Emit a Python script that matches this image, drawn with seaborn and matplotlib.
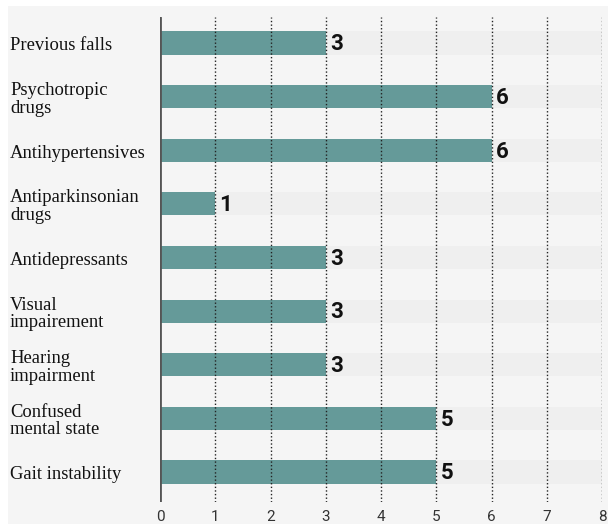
import matplotlib
matplotlib.use("Agg")
import matplotlib.pyplot as plt
import matplotlib.transforms as mtransforms
import seaborn as sns
import pandas as pd
from matplotlib.patches import Rectangle

categories = ["Previous falls", "Psychotropic\ndrugs", "Antihypertensives",
              "Antiparkinsonian\ndrugs", "Antidepressants", "Visual\nimpairement",
              "Hearing\nimpairment", "Confused\nmental state", "Gait instability"]
values = [3, 6, 6, 1, 3, 3, 3, 5, 5]
x_ticks = [0, 1, 2, 3, 4, 5, 6, 7, 8]
x_max = 8

sns.set_theme(style="white")
plt.rcParams['font.family'] = ['Liberation Serif', 'DejaVu Serif']

df = pd.DataFrame({"cat": categories, "val": values, "track": [x_max] * len(values)})

fig = plt.figure(figsize=(6.08, 5.24), dpi=100)
fig.patch.set_facecolor("white")
bg = Rectangle((8 / 608, 0), 1, 1 - 6 / 524, transform=fig.transFigure,
               facecolor="#f5f5f5", edgecolor="none", zorder=-10)
fig.patches.append(bg)
ax = fig.add_axes([160 / 608, 1 - 502 / 524, 442 / 608, 485 / 524])
ax.set_zorder(5)
ax.set_facecolor("none")

sns.barplot(data=df, y="cat", x="track", color="#efefef", width=0.43, ax=ax,
            saturation=1, linewidth=0, zorder=1)
sns.barplot(data=df, y="cat", x="val", color="#659a99", width=0.43, ax=ax,
            saturation=1, linewidth=0, zorder=2)

ax.set_xlim(0, x_max)
ax.set_ylim(len(categories) - 1 + 0.56, -0.485)
ax.set_xticks(x_ticks)
ax.set_xticklabels([str(t) for t in x_ticks])
ax.set_xlabel("")
ax.set_ylabel("")
for s in ax.spines.values():
    s.set_visible(False)

for t in x_ticks[1:]:
    ax.axvline(t, color="#222222", lw=1, ls=(0, (1, 1.6)), zorder=3)
ax.axvline(0, color="#555555", lw=2, zorder=4)

ax.tick_params(axis="x", length=0, pad=6, labelsize=11, labelcolor="#333333")
for lab in ax.get_xticklabels():
    lab.set_family(['Roboto', 'DejaVu Sans'])

ax.set_yticks([])
trans = mtransforms.blended_transform_factory(fig.transFigure, ax.transData)
for i, c in enumerate(categories):
    ax.annotate(c, xy=(10 / 608, i), xycoords=trans, xytext=(0, -2),
                textcoords="offset points", va="center", ha="left",
                fontsize=13.4, color="#111111", linespacing=1.05,
                family=['Liberation Serif', 'DejaVu Serif'], annotation_clip=False)

for i, v in enumerate(values):
    ax.annotate(str(v), xy=(v, i), xytext=(3, -1), textcoords="offset points",
                va="center", ha="left", fontsize=16, fontweight="bold",
                color="#111111", family=['Roboto', 'DejaVu Sans'],
                zorder=5)

fig.savefig("out.png", dpi=100, facecolor=fig.get_facecolor())
